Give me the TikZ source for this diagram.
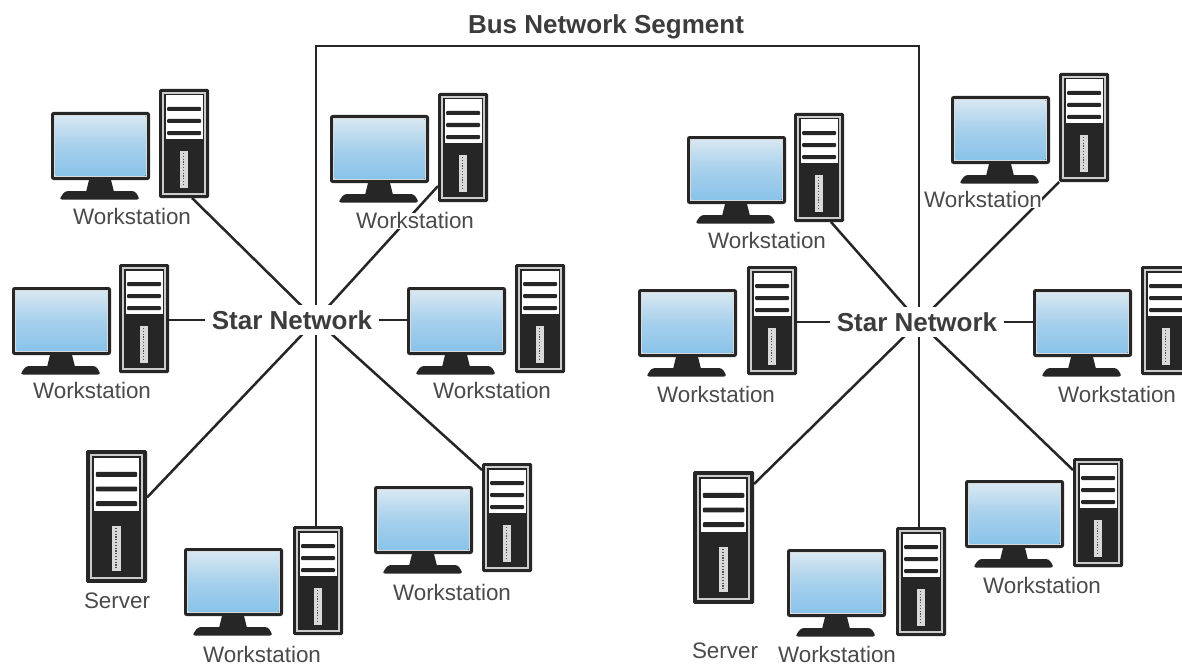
\documentclass[tikz,border=0pt]{standalone}
\usepackage{fontspec}
\setmainfont{Liberation Sans}
\usetikzlibrary{backgrounds}
\definecolor{inkdark}{HTML}{262626}
\definecolor{lab}{HTML}{4A4A4A}
\definecolor{framegray}{HTML}{9A9A9A}
\definecolor{scrtop}{HTML}{D6E7F2}
\definecolor{scrmid}{HTML}{A6D0EC}
\definecolor{scrbot}{HTML}{8AC3EA}
\tikzset{
  x=1pt,y=-1pt,
  devbox/.style={inner sep=0pt,outer sep=0pt,anchor=north west,fill=white},
  wlabel/.style={font=\fontsize{22.4}{24}\selectfont,text=lab,fill=white,inner sep=0.5pt,text height=15pt,text depth=0pt},
  starlabel/.style={font=\bfseries\fontsize{26}{28}\selectfont,text=inkdark!90,fill=white,inner sep=0pt,minimum width=174pt,minimum height=30pt},
  titlelabel/.style={font=\bfseries\fontsize{26}{28}\selectfont,text=inkdark!90,inner sep=0pt},
  wire/.style={draw=inkdark,line width=2.5pt},
}
\newcommand{\mytower}[4]{%
  \node[devbox,minimum width=#4*50pt,minimum height=#4*109pt] (#1) at (#2,#3) {};
  \begin{scope}[shift={(#2,#3)},xscale=#4,yscale=#4]
    \fill[inkdark,rounded corners=1.5] (0,0) rectangle (50,109);
    \fill[white!80!black] (3,3) rectangle (47,106);
    \fill[inkdark] (5,5) rectangle (45,104);
    \fill[white] (6.5,6.5) rectangle (43.5,50);
    \foreach \yy in {20,32,44} \fill[inkdark,rounded corners=1] (8,\yy-2) rectangle (42,\yy+2);
    \fill[white!85!black] (21,62) rectangle (28.5,99);
    \draw[inkdark!80,line width=1.4pt,dash pattern=on 1.2pt off 1.6pt] (24.7,64) -- (24.7,97);
  \end{scope}}
\newcommand{\mymonitor}[3]{%
  \node[devbox,minimum width=99pt,minimum height=68pt] (#1) at (#2,#3) {};
  \begin{scope}[shift={(#2,#3)}]
    \fill[inkdark] (38,68) -- (60,68) -- (63,80) -- (35,80) -- cycle;
    \fill[inkdark,rounded corners=3] (14,79) -- (84,79) -- (89,87.5) -- (8,87.5) -- cycle;
    \fill[inkdark,rounded corners=2.5] (0,0) rectangle (99,68);
    \fill[white!85!black] (3,3) rectangle (96,65);
    \fill[top color=scrtop,bottom color=scrbot,middle color=scrmid] (4.5,4.5) rectangle (94.5,63.5);
  \end{scope}}
\begin{document}
\begin{tikzpicture}
\useasboundingbox (0,0) rectangle (1182,666);
\clip (0,0) rectangle (1182,666);
\coordinate (hubL) at (316,320);
\coordinate (hubR) at (919,322);
\coordinate (busR) at (919,46);
\node[titlelabel] (title) at (606,27) {Bus Network Segment};
\node[starlabel] (starL) at (292,320) {Star Network};
\node[starlabel] (starR) at (917,322) {Star Network};
% labels
\node[wlabel] (l1) at (132,217) {Workstation};
\node[wlabel] (l2) at (415,221) {Workstation};
\node[wlabel] (l3) at (92,391) {Workstation};
\node[wlabel] (l4) at (492,391) {Workstation};
\node[wlabel] (l5) at (117,601) {Server};
\node[wlabel] (l6) at (262,655) {Workstation};
\node[wlabel] (l7) at (452,593) {Workstation};
\node[wlabel] (l8) at (767,241) {Workstation};
\node[wlabel] (l9) at (983,200) {Workstation};
\node[wlabel] (l10) at (716,395) {Workstation};
\node[wlabel] (l11) at (1117,395) {Workstation};
\node[wlabel] (l12) at (725,651) {Server};
\node[wlabel] (l13) at (837,655) {Workstation};
\node[wlabel] (l14) at (1042,586) {Workstation};
% left cluster
\mymonitor{m1}{51}{112}\mytower{t1}{159}{89}{1}
\mymonitor{m2}{330}{115}\mytower{t2}{438}{93}{1}
\mymonitor{m3}{12}{287}\mytower{t3}{119}{264}{1}
\mymonitor{m4}{407}{287}\mytower{t4}{515}{264}{1}
\mytower{s5}{86}{450}{1.22}
\mymonitor{m6}{184}{548}\mytower{t6}{293}{526}{1}
\mymonitor{m7}{374}{486}\mytower{t7}{482}{463}{1}
% right cluster
\mymonitor{m8}{687}{136}\mytower{t8}{794}{113}{1}
\mymonitor{m9}{951}{96}\mytower{t9}{1059}{73}{1}
\mymonitor{m10}{638}{289}\mytower{t10}{747}{266}{1}
\mymonitor{m11}{1033}{289}\mytower{t11}{1141}{266}{1}
\mytower{s12}{693}{471}{1.22}
\mymonitor{m13}{787}{549}\mytower{t13}{896}{527}{1}
\mymonitor{m14}{965}{480}\mytower{t14}{1073}{458}{1}
\begin{scope}[on background layer]
  \fill[white] (0,0) rectangle (1182,666);
  \draw[wire] (hubL) |- (busR) -- (hubR);
  \draw[wire] (hubL) -- ([xshift=8pt]t1.south);
  \draw[wire] (hubL) -- ([yshift=16pt]t2.south west);
  \draw[wire] (hubL) -- (t3.east |- hubL);
  \draw[wire] (hubL) -- (m4.west |- hubL);
  \draw[wire] (hubL) -- ([yshift=19pt]s5.east);
  \draw[wire] (hubL) -- (hubL |- t6.north);
  \draw[wire] (hubL) -- ([yshift=-7pt]t7.north west);
  \draw[wire] (hubR) -- ([xshift=-13pt]t8.south east);
  \draw[wire] (hubR) -- (t9.south west);
  \draw[wire] (hubR) -- (t10.east |- hubR);
  \draw[wire] (hubR) -- (m11.west |- hubR);
  \draw[wire] (hubR) -- ([yshift=-13pt]s12.north east);
  \draw[wire] (hubR) -- (hubR |- t13.north);
  \draw[wire] (hubR) -- ([yshift=-12pt]t14.north west);
\end{scope}
\end{tikzpicture}
\end{document}
